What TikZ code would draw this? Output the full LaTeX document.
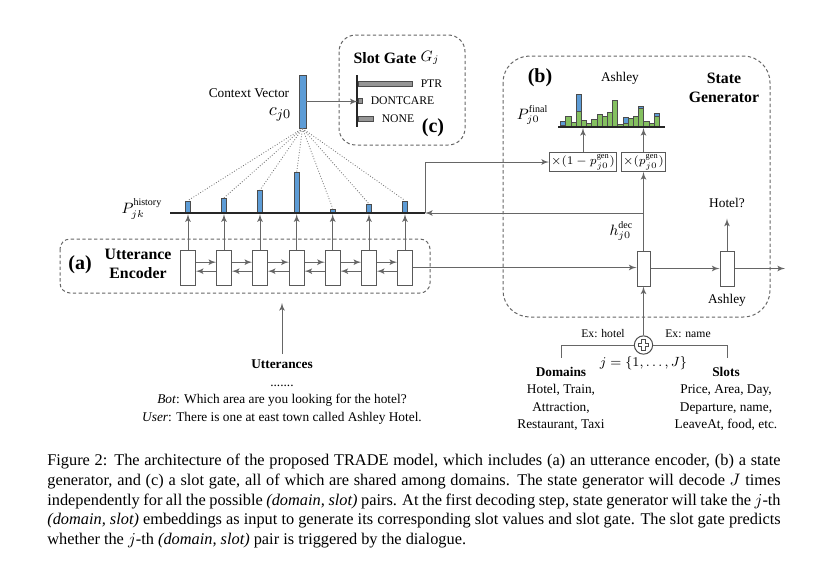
\documentclass[tikz,border=0pt]{standalone}
\usepackage{amsmath}
\usepackage{fontspec}
\setmainfont{Liberation Serif}[BoldFont={Liberation Serif Bold},ItalicFont={Liberation Serif Italic}]
\usetikzlibrary{arrows,positioning}
\definecolor{histblue}{RGB}{93,156,214}
\definecolor{histgreen}{RGB}{132,192,96}
\definecolor{gatebar}{RGB}{150,150,150}
\tikzset{font=\fontsize{8}{10.5}\selectfont}
\tikzset{
  garrow/.style={draw=black!60, line width=0.6pt, -latex'},
  gline/.style={draw=black!60, line width=0.6pt},
  dbox/.style={draw=black!60, line width=0.6pt, dash pattern=on 2pt off 1.5pt},
  attn/.style={draw=black!55, line width=0.5pt, dash pattern=on 0.5pt off 1.1pt},
  cell/.style={draw=black!65, fill=white, line width=0.6pt, minimum width=8.8pt, minimum height=21pt, inner sep=0pt},
  hbar/.style={draw=black!70, fill=histblue, line width=0.5pt, minimum width=3.3pt, inner sep=0pt, anchor=south},
  gbar/.style={draw=black!70, fill=gatebar, line width=0.5pt, minimum height=3.3pt, inner sep=0pt, anchor=west},
  thickbase/.style={draw=black!85, line width=1.6pt},
  mulbox/.style={draw=black!65, line width=0.6pt, inner sep=1pt, minimum height=10.4pt, font=\fontsize{7}{8}\selectfont},
  lbl/.style={font=\fontsize{9.5}{11.5}\selectfont\bfseries, align=center},
  tag/.style={font=\fontsize{12}{14}\selectfont\bfseries},
  smalltxt/.style={font=\fontsize{7}{8}\selectfont},
  mlbl/.style={font=\fontsize{9}{10}\selectfont},
}

\begin{document}
\begin{tikzpicture}[x=0.6pt,y=-0.6pt]
  \useasboundingbox (0,0) rectangle (816,561);

  % dashed frames
  \draw[dbox, rounded corners=6pt] (60,239) rectangle (430,293);
  \draw[dbox, rounded corners=16pt] (503,56) rectangle (770,317);
  \draw[dbox, rounded corners=10pt] (339,35) rectangle (465,145);

  % context vector and slot gate
  \node[hbar, anchor=center, minimum width=4.2pt, minimum height=31.8pt] (cv) at (302.5,101.5) {};
  \node[anchor=east] (cvtext) at (295,93) {Context Vector};
  \node[anchor=east, font=\fontsize{11}{12}\selectfont] (cj) at (297,114) {$c_{j0}$};
  \node[lbl] (sg) at (385,58) {Slot Gate};
  \node[mlbl] (gj) at (430,58) {$G_j$};
  \draw[thickbase, line width=1.2pt] (357,75) -- (357,127);
  \node[gbar, minimum width=32.8pt] (g1) at (357.7,83.7) {};
  \node[gbar, minimum width=2.8pt] (g2) at (357.7,101) {};
  \node[gbar, minimum width=9.4pt] (g3) at (357.7,118.8) {};
  \node[smalltxt, right=1pt of g1] (ptr) {PTR};
  \node[smalltxt, right=1pt of g2] (dc) {DONTCARE};
  \node[smalltxt, right=1pt of g3] (none) {NONE};
  \draw[garrow] (cv.east) -- (cv.east -| g2.west);
  \node[tag] (c) at (433,128) {(c)};

  % utterance encoder and history attention
  \coordinate (hstart) at (170,213);
  \coordinate (hend) at (425,213);
  \foreach \x/\h [count=\i] in {188/7,224/8.6,260/13.2,296.7/24,332.7/2.2,369/5,405/7}{
    \node[hbar, minimum height=\h pt] (h\i) at (\x,213) {};
    \node[cell] (e\i) at (\x,267.5) {};
    \draw[garrow, shorten >=0.7pt] (e\i) -- (h\i.south);
    \draw[attn] (cv.south) -- (h\i.north);
  }
  \foreach \i in {1,...,6}{
    \pgfmathtruncatemacro{\j}{\i+1}
    \draw[garrow] ([yshift=3.2pt]e\i.east) -- ([yshift=3.2pt]e\j.west);
    \draw[garrow] ([yshift=-2.2pt]e\j.west) -- ([yshift=-2.2pt]e\i.east);
  }
  \draw[thickbase] (hstart) -- (hend);
  \node[anchor=east, mlbl] (ph) at (168,209) {$P^{\mathrm{history}}_{jk}$};
  \node[tag] (a) at (80,265) {(a)};
  \node[lbl] (ue) at (138,264) {Utterance\\Encoder};

  \node[align=center] (utt) at (282,392) {\textbf{Utterances}\\.......\\\textit{Bot}: Which area are you looking for the hotel?\\\textit{User}: There is one at east town called Ashley Hotel.};
  \coordinate (uttin) at (282,303);
  \draw[garrow] (utt.north -| uttin) -- (uttin);

  % state generator
  \node[tag] (b) at (540,78) {(b)};
  \node (ashtop) at (620,78) {Ashley};
  \node[lbl] (sgen) at (724,88) {State\\Generator};

  \coordinate (fstart) at (558,127);
  \coordinate (fend) at (665,127);
  \foreach \g [count=\i] in {1.5,11,5,15.7,7,3.3,8,12.7,11,14.3,26.7,2.3,4,8.3,11,18.3,6,3.3,11}
    \filldraw[fill=histgreen, draw=black!70, line width=0.4pt] ({560.6+5.2*(\i-1)},127) rectangle ++(5.2,-\g);
  \foreach \i/\lo/\hi in {1/1.5/5.5,4/15.7/33,13/4/10,16/18.3/20.7,19/11/13.3}
    \filldraw[fill=histblue, draw=black!70, line width=0.4pt] ({560.6+5.2*(\i-1)},127-\lo) rectangle ++(5.2,-\hi+\lo);
  \draw[thickbase, line width=1.2pt] (fstart) -- (fend);
  \node[anchor=east, mlbl] (pf) at (554,115) {$P^{\mathrm{final}}_{j0}$};

  \node[mulbox] (mh) at (583,162) {$\times(1-p^{\mathrm{gen}}_{j0})$};
  \node[mulbox] (mg) at (643.5,162) {$\times(p^{\mathrm{gen}}_{j0})$};
  \draw[garrow, shorten >=0.6pt] (mh) -- (mh |- fstart);
  \draw[garrow, shorten >=0.6pt] (mg) -- (mg |- fstart);

  \node[cell, minimum width=7.8pt] (d1) at (643.5,268.5) {};
  \node[cell, minimum width=8.4pt] (d2) at (727,268.5) {};
  \coordinate (dout) at (785,268.5);
  \coordinate (hj) at (d1 |- hend);
  \draw[garrow] (e7.east) -- (e7.east -| d1.west);
  \draw[garrow] (d1) -- (d2);
  \draw[garrow] (d2) -- (dout);
  \draw[garrow] (d1) -- (mg);
  \draw[garrow] (hj) -- (hend);
  \draw[garrow] (hend) |- (mh);
  \node[anchor=east, mlbl] (hdec) at (639,231) {$h^{\mathrm{dec}}_{j0}$};
  \node (hotel) at (727,203) {Hotel?};
  \draw[garrow, shorten >=3pt] (d2) -- (hotel);
  \node (ashley) at (727,300) {Ashley};

  % domain / slot input
  \node[circle, draw=black!70, line width=0.6pt, minimum size=11pt, inner sep=0pt] (plus) at (643.5,345) {};
  \draw[black!70, line width=0.5pt] (plus.center) ++(-1pt,-3.2pt) -- ++(2pt,0) -- ++(0,2.2pt) -- ++(2.2pt,0) -- ++(0,2pt) -- ++(-2.2pt,0) -- ++(0,2.2pt) -- ++(-2pt,0) -- ++(0,-2.2pt) -- ++(-2.2pt,0) -- ++(0,-2pt) -- ++(2.2pt,0) -- cycle;
  \draw[garrow] (plus) -- (d1);
  \coordinate (domtop) at (561,358);
  \coordinate (slottop) at (727,358);
  \draw[gline] (plus) -| (domtop);
  \draw[gline] (plus) -| (slottop);
  \node[smalltxt] (exh) at (603,334) {Ex: hotel};
  \node[smalltxt] (exn) at (688,334) {Ex: name};
  \node (jrange) at (643.5,363) {$j=\{1,\ldots,J\}$};
  \node[align=center] (dom) at (561,399) {\textbf{Domains}\\Hotel, Train,\\Attraction,\\Restaurant, Taxi};
  \node[align=center] (slots) at (726,399) {\textbf{Slots}\\Price, Area, Day,\\Departure, name,\\LeaveAt, food, etc.};

  % caption
  \node[anchor=north west, inner sep=0pt, text width=440pt, align=justify, font=\fontsize{9.8}{11.8}\selectfont] (cap) at (47,454) {Figure 2: The architecture of the proposed TRADE model, which includes (a) an utterance encoder, (b) a state\linebreak generator, and (c) a slot gate, all of which are shared among domains. The state generator will decode $J$ times\linebreak independently for all the possible \textit{(domain, slot)} pairs. At the first decoding step, state generator will take the \mbox{$j$-th}\linebreak \textit{(domain, slot)} embeddings as input to generate its corresponding slot values and slot gate. The slot gate predicts\linebreak whether the \mbox{$j$-th} \textit{(domain, slot)} pair is triggered by the dialogue.};
\end{tikzpicture}
\end{document}
